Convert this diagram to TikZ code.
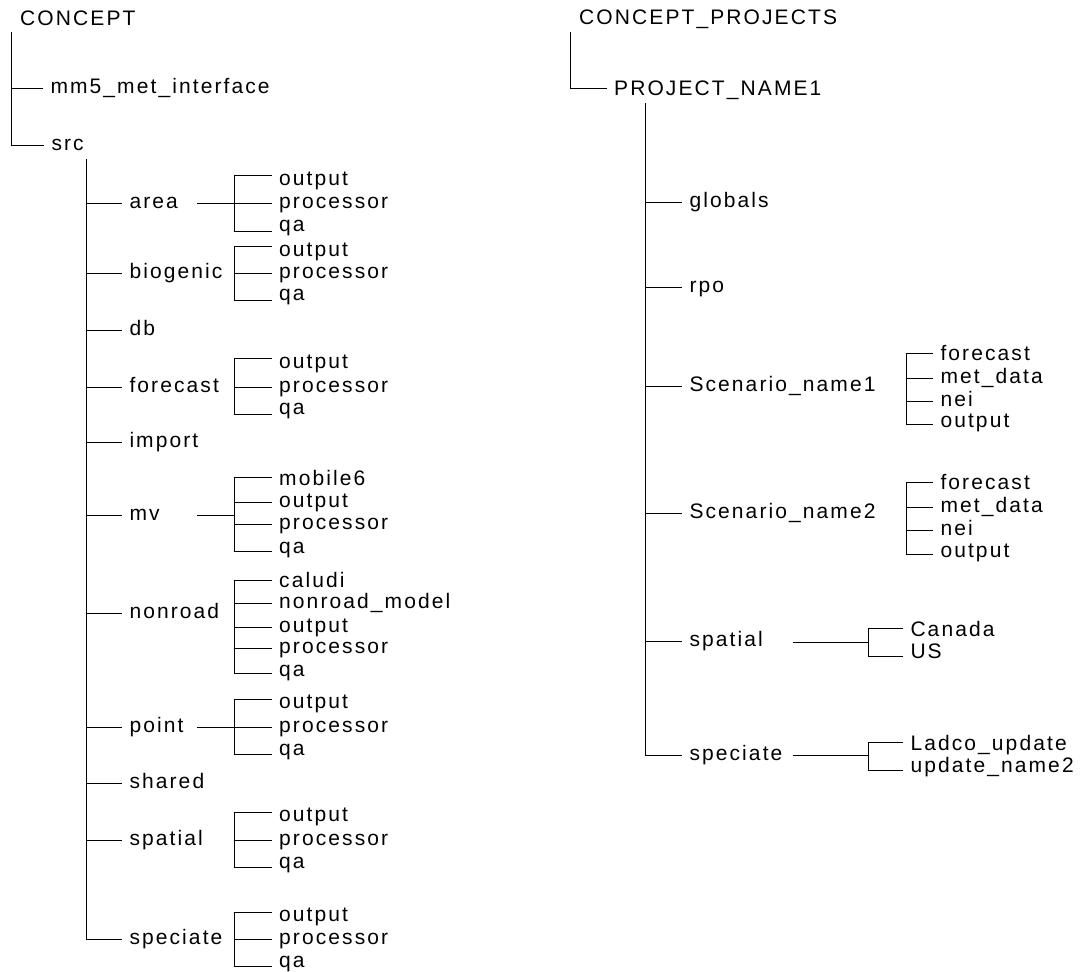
\documentclass[tikz,border=0pt]{standalone}
\usepackage{fontspec}
\newfontfamily\labfont{Liberation Sans}[LetterSpace=10]
\newcommand\kid[4]{\node[lbl] (#1) at (#2,#3) {#4};}
\newcommand\kidc[4]{\node[capslbl] (#1) at (#2,#3) {#4};}
% bracket: first, last, width, vertical overhang
\newcommand\brk[4]{\draw[conn] ([yshift=#4pt]#1.west) -| ([xshift=-#3pt,yshift=-#4pt]#2.west) -- ([yshift=-#4pt]#2.west);}
\newcommand\midkid[2]{\draw[conn] ([xshift=-#2pt]#1.west) -- (#1.west);}
\begin{document}
\begin{tikzpicture}[x=1pt,y=-1pt,
  lbl/.style={anchor=west,inner sep=0pt,outer xsep=7.5pt,text height=15pt,text depth=4pt,
    font=\labfont\fontsize{21}{25}\selectfont},
  capslbl/.style={lbl,text height=15pt,text depth=0pt},
  rootlbl/.style={anchor=base west,inner sep=0pt,font=\labfont\fontsize{21}{25}\selectfont},
  conn/.style={draw=black,line width=0.9pt}]
\useasboundingbox (0,0) rectangle (1080,972);

%% ---------------- left tree ----------------
\node[rootlbl] (concept) at (20,25) {CONCEPT};
\coordinate (c0) at (11,32);
\kid{mm5}{43}{88}{mm5\_met\_interface}
\kid{src}{44}{145}{src}
\draw[conn] (c0) |- (src.west);
\draw[conn] (c0 |- mm5.west) -- (mm5.west);

\coordinate (s0) at (86,159);
\kid{area}{122}{203}{area}
\kid{biogenic}{122}{273}{biogenic}
\kid{db}{122}{330}{db}
\kid{forecast}{122}{387}{forecast}
\kid{import}{122}{442}{import}
\kid{mv}{122}{515}{mv}
\kid{nonroad}{122}{613}{nonroad}
\kid{point}{122}{727}{point}
\kid{shared}{122}{783}{shared}
\kid{spatial}{122}{840}{spatial}
\kid{speciate}{122}{939}{speciate}
\draw[conn] (s0) |- (speciate.west);
\foreach \n in {area,biogenic,db,forecast,import,mv,nonroad,point,shared,spatial}
  {\draw[conn] (s0 |- \n.west) -- (\n.west);}

% area
\kid{aout}{271.7}{180}{output}
\kid{aproc}{271.7}{203}{processor}
\kid{aqa}{271.7}{226}{qa}
\brk{aout}{aqa}{37.7}{5}\midkid{aproc}{37.7}
\coordinate (ak) at (197,203);
\draw[conn] (ak) -- ([xshift=-37.7pt]aproc.west);
% biogenic
\kid{bout}{271.7}{251}{output}
\kid{bproc}{271.7}{273}{processor}
\kid{bqa}{271.7}{295}{qa}
\brk{bout}{bqa}{37.7}{5}\midkid{bproc}{37.7}
% forecast
\kid{fout}{271.7}{363}{output}
\kid{fproc}{271.7}{387}{processor}
\kid{fqa}{271.7}{409}{qa}
\brk{fout}{fqa}{37.7}{5}\midkid{fproc}{37.7}
% mv
\kid{mmob}{271.7}{480}{mobile6}
\kid{mout}{271.7}{502}{output}
\kid{mproc}{271.7}{524}{processor}
\kid{mqa}{271.7}{548}{qa}
\brk{mmob}{mqa}{37.7}{3}\midkid{mout}{37.7}\midkid{mproc}{37.7}
\coordinate (mk) at (197,515);
\draw[conn] (mk) -- ([xshift=-37.7pt]mk -| mqa.west);
% nonroad
\kid{ncal}{271.7}{582}{caludi}
\kid{nmod}{271.7}{603}{nonroad\_model}
\kid{nout}{271.7}{627}{output}
\kid{nproc}{271.7}{648}{processor}
\kid{nqa}{271.7}{671}{qa}
\brk{ncal}{nqa}{37.7}{2}\midkid{nmod}{37.7}\midkid{nout}{37.7}\midkid{nproc}{37.7}
% point
\kid{pout}{271.7}{703}{output}
\kid{pproc}{271.7}{727}{processor}
\kid{pqa}{271.7}{750}{qa}
\brk{pout}{pqa}{37.7}{4}\midkid{pproc}{37.7}
\coordinate (pk) at (197,727);
\draw[conn] (pk) -- ([xshift=-37.7pt]pproc.west);
% spatial
\kid{spout}{271.7}{816}{output}
\kid{spproc}{271.7}{840}{processor}
\kid{spqa}{271.7}{863}{qa}
\brk{spout}{spqa}{37.7}{4}\midkid{spproc}{37.7}
% speciate
\kid{seout}{271.7}{916}{output}
\kid{seproc}{271.7}{939}{processor}
\kid{seqa}{271.7}{962}{qa}
\brk{seout}{seqa}{37.7}{4}\midkid{seproc}{37.7}

%% ---------------- right tree ----------------
\node[rootlbl] (cproj) at (579,24) {CONCEPT\_PROJECTS};
\coordinate (r0) at (570,32);
\kidc{pn1}{606.7}{88}{PROJECT\_NAME1}
\draw[conn] (r0) |- (pn1.west);

\coordinate (p0) at (645,103);
\kid{globals}{682}{202}{globals}
\kid{rpo}{682}{287}{rpo}
\kid{sc1}{682}{386}{Scenario\_name1}
\kid{sc2}{682}{513}{Scenario\_name2}
\kid{rspatial}{682}{641}{spatial}
\kid{rspeciate}{682}{755}{speciate}
\draw[conn] (p0) |- (rspeciate.west);
\foreach \n in {globals,rpo,sc1,sc2,rspatial}
  {\draw[conn] (p0 |- \n.west) -- (\n.west);}

% Scenario_name1
\kid{aforecast}{933}{355}{forecast}
\kid{amet}{933}{378}{met\_data}
\kid{anei}{933}{401}{nei}
\kid{aoutput}{933}{422}{output}
\brk{aforecast}{aoutput}{27}{2}\midkid{amet}{27}\midkid{anei}{27}
% Scenario_name2
\kid{bforecast}{933}{484}{forecast}
\kid{bmet}{933}{507}{met\_data}
\kid{bnei}{933}{530}{nei}
\kid{boutput}{933}{552}{output}
\brk{bforecast}{boutput}{27}{2}\midkid{bmet}{27}\midkid{bnei}{27}
% spatial
\kid{canada}{903}{631}{Canada}
\kid{us}{903}{653}{US}
\brk{canada}{us}{35}{3}
\coordinate (rsk) at (793,642);
\draw[conn] (rsk) -- ([xshift=-35pt]rsk -| us.west);
% speciate
\kid{ladco}{903}{745}{Ladco\_update}
\kid{upd}{903}{767}{update\_name2}
\brk{ladco}{upd}{35}{3}
\coordinate (rek) at (793,755);
\draw[conn] (rek) -- ([xshift=-35pt]rek -| upd.west);
\end{tikzpicture}
\end{document}
